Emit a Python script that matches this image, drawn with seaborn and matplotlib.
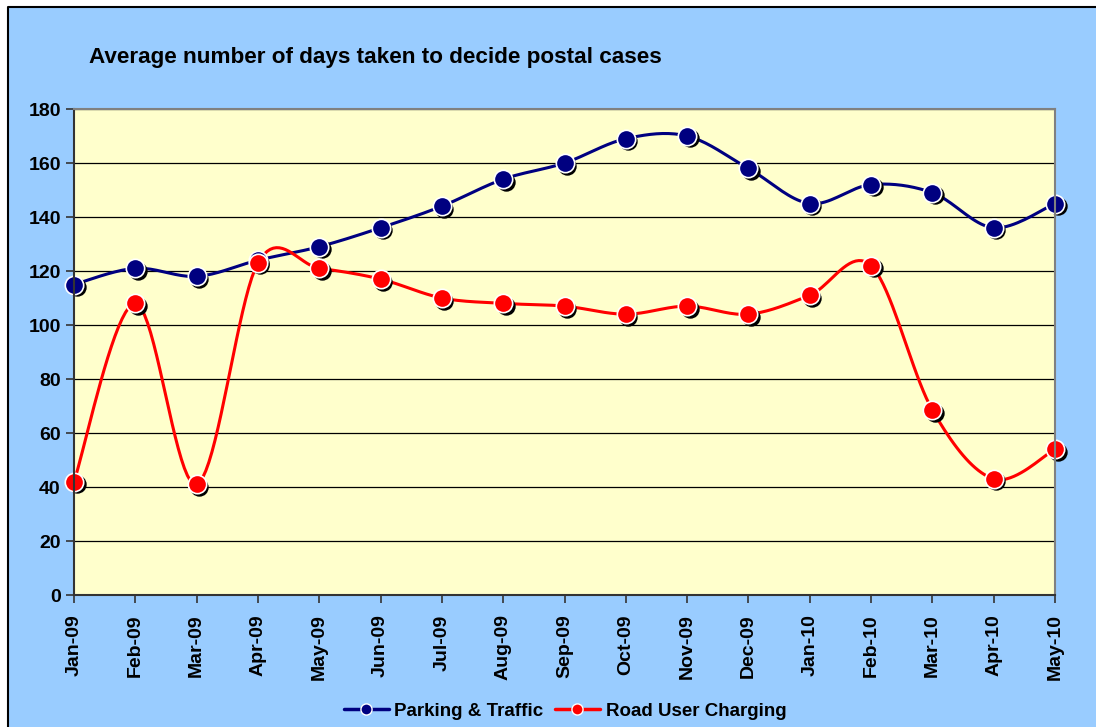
import numpy as np
import pandas as pd
import matplotlib
matplotlib.use("Agg")
import matplotlib.pyplot as plt
import matplotlib.transforms as mtransforms
from matplotlib.lines import Line2D
import seaborn as sns

months = ["Jan-09", "Feb-09", "Mar-09", "Apr-09", "May-09", "Jun-09", "Jul-09", "Aug-09",
          "Sep-09", "Oct-09", "Nov-09", "Dec-09", "Jan-10", "Feb-10", "Mar-10", "Apr-10", "May-10"]
parking = [115, 121, 118, 124, 129, 136, 144, 154, 160, 169, 170, 158, 145, 152, 149, 136, 145]
road = [42, 108, 41, 123, 121, 117, 110, 108, 107, 104, 107, 104, 111, 122, 68.5, 43, 54]

sns.set_theme(style="white")
plt.rcParams["font.family"] = ["Liberation Sans", "DejaVu Sans"]
plt.rcParams["font.weight"] = "bold"
plt.rcParams["text.color"] = "black"
plt.rcParams["xtick.color"] = "black"
plt.rcParams["ytick.color"] = "black"

BLUE_BG = "#99CCFF"
PLOT_BG = "#FFFFCC"
NAVY = "#000080"
RED = "#FF0000"


def smooth(y, n=20):
    # Excel-style smoothed line (Catmull-Rom through the points)
    y = np.asarray(y, dtype=float)
    x = np.arange(len(y), dtype=float)
    px = np.concatenate([[x[0]], x, [x[-1]]])
    py = np.concatenate([[y[0]], y, [y[-1]]])
    xs, ys = [], []
    for i in range(1, len(px) - 2):
        p0, p1, p2, p3 = py[i - 1], py[i], py[i + 1], py[i + 2]
        q0, q1, q2, q3 = px[i - 1], px[i], px[i + 1], px[i + 2]
        t = np.linspace(0, 1, n, endpoint=False)
        for a, b, c, d, out in ((q0, q1, q2, q3, xs), (p0, p1, p2, p3, ys)):
            out.extend(0.5 * ((2 * b) + (-a + c) * t + (2 * a - 5 * b + 4 * c - d) * t ** 2
                              + (-a + 3 * b - 3 * c + d) * t ** 3))
    xs.append(x[-1])
    ys.append(y[-1])
    return np.array(xs), np.array(ys)


fig = plt.figure(figsize=(10.96, 7.27), dpi=100)
fig.patch.set_facecolor("white")
fig.add_artist(plt.Rectangle((8 / 1096, -0.1), 1.2, 1.1 - 7 / 727, transform=fig.transFigure,
                             facecolor=BLUE_BG, edgecolor="none", zorder=-10))
fig.add_artist(Line2D([8 / 1096, 8 / 1096, 1.05], [-0.05, 1 - 7 / 727, 1 - 7 / 727],
                      transform=fig.transFigure, color="black", linewidth=1.5))

ax = fig.add_axes([74 / 1096, 1 - 595 / 727, (1055 - 74) / 1096, (595 - 109) / 727])
ax.set_facecolor(PLOT_BG)

x = np.arange(len(months))
shadow = mtransforms.offset_copy(ax.transData, fig=fig, x=2.5, y=-2.5, units="dots")

for vals, col, name in ((parking, NAVY, "Parking & Traffic"), (road, RED, "Road User Charging")):
    sx, sy = smooth(vals)
    sns.lineplot(x=sx, y=sy, ax=ax, color=col, linewidth=2.2, sort=False, zorder=3)
    ax.scatter(x, vals, s=175, color="black", zorder=4, transform=shadow, linewidths=0)
    ax.scatter(x, vals, s=175, color=col, edgecolors="white", linewidths=1.2, zorder=5)

ax.set_xlim(0, len(months) - 1)
ax.set_ylim(0, 180)
ax.set_yticks(range(0, 181, 20))
ax.set_xticks(x)
ax.set_xticklabels(months, rotation=90, fontsize=14, fontweight="bold")
ax.tick_params(axis="y", labelsize=14, length=6, width=1.2, direction="out", left=True, color="#333333")
ax.tick_params(axis="x", length=6, width=1.2, direction="out", bottom=True, color="#333333", pad=8)
for lbl in ax.get_yticklabels():
    lbl.set_fontweight("bold")
ax.yaxis.grid(True, color="black", linewidth=0.9)
ax.set_axisbelow(True)
for side in ("left", "bottom"):
    ax.spines[side].set_color("#333333")
    ax.spines[side].set_linewidth(1.5)
for side in ("top", "right"):
    ax.spines[side].set_color("#808080")
    ax.spines[side].set_linewidth(1.5)
for s in ax.spines.values():
    s.set_zorder(6)
for art in ax.collections:
    art.set_clip_on(False)

fig.text(89 / 1096, 1 - 57 / 727, "Average number of days taken to decide postal cases",
         fontsize=16.2, fontweight="bold", ha="left", va="center")

handles = [Line2D([0], [0], color=NAVY, linewidth=2.5, marker="o", markersize=8,
                  markerfacecolor=NAVY, markeredgecolor="white"),
           Line2D([0], [0], color=RED, linewidth=2.5, marker="o", markersize=8,
                  markerfacecolor=RED, markeredgecolor="white")]
fig.legend(handles, ["Parking & Traffic", "Road User Charging"], loc="center",
           bbox_to_anchor=(565 / 1096, 1 - 711 / 727), ncol=2, frameon=False,
           prop={"size": 13.5, "weight": "bold"}, handlelength=2.4, columnspacing=0.6,
           handletextpad=0.3)

fig.savefig("out.png", dpi=100, facecolor=fig.get_facecolor())
